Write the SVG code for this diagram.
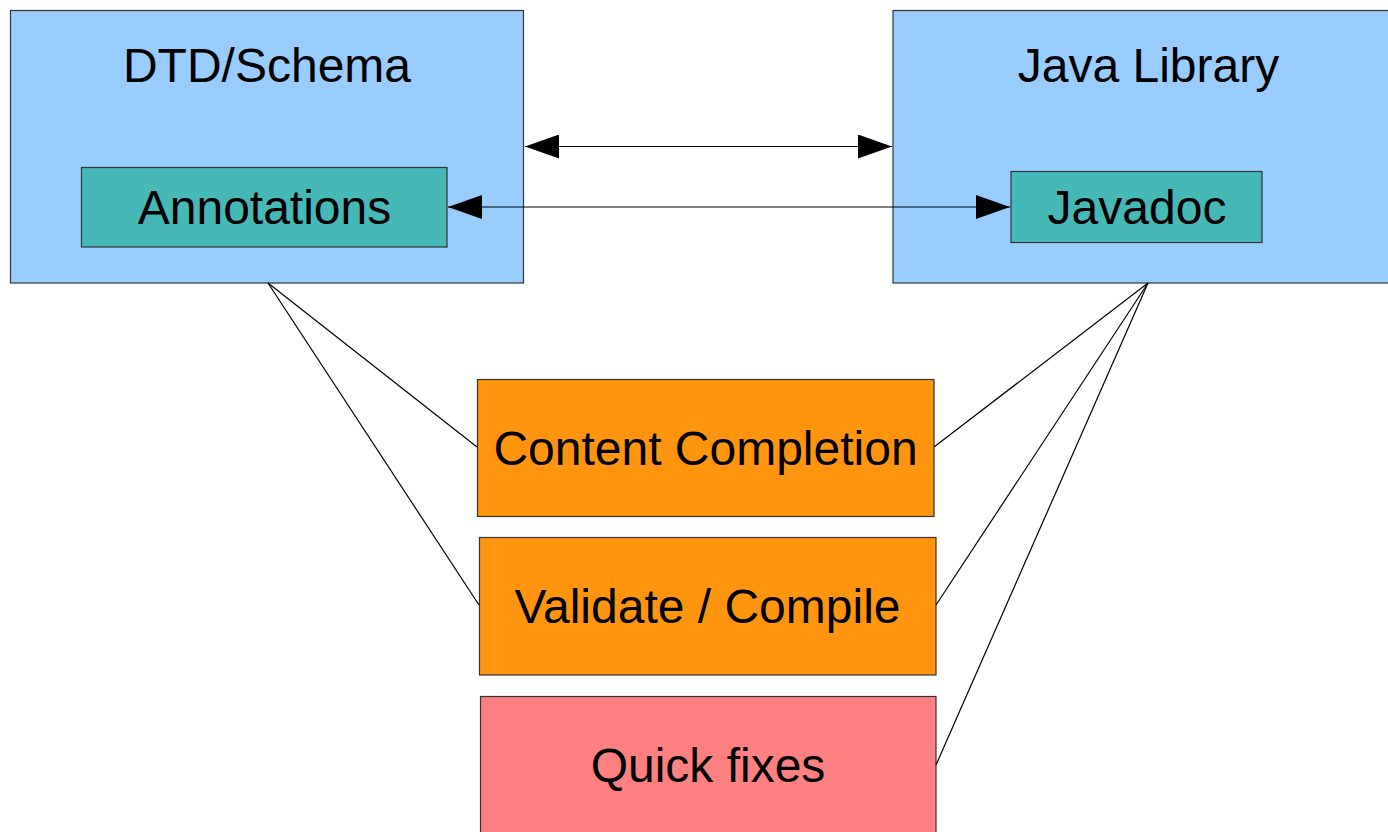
<svg xmlns="http://www.w3.org/2000/svg" width="1388" height="832" viewBox="0 0 1388 832">
<style>
.box{stroke:#333;stroke-width:1.2}
.outer{fill:#99ccff}
.inner{fill:#47b8b8}
.orange{fill:#ff950e}
.pink{fill:#ff8080}
.lbl{font-family:"Liberation Sans",Arial,sans-serif;font-size:48px;fill:#000;text-anchor:middle}
.conn{stroke:#000;stroke-width:1.2;fill:none}
</style>
<defs>
<marker id="ah" markerUnits="userSpaceOnUse" markerWidth="34" markerHeight="24" refX="34" refY="12" orient="auto-start-reverse" viewBox="0 0 34 24">
<path d="M0,0 L34,12 L0,24 Z" fill="#000"/>
</marker>
</defs>
<rect width="1388" height="832" fill="#fff"/>
<g id="dtd">
<rect class="box outer" x="10.5" y="10.5" width="513" height="272.5"/>
<text class="lbl" x="267" y="82">DTD/Schema</text>
</g>
<g id="java">
<rect class="box outer" x="893" y="10.5" width="520" height="272.5"/>
<text class="lbl" x="1148.5" y="82">Java Library</text>
</g>
<g id="annotations">
<rect class="box inner" x="81.5" y="167.5" width="365.5" height="79.5"/>
<text class="lbl" x="264.5" y="224">Annotations</text>
</g>
<g id="javadoc">
<rect class="box inner" x="1011" y="171.5" width="251" height="71"/>
<text class="lbl" x="1137" y="224">Javadoc</text>
</g>
<g id="content">
<rect class="box orange" x="477.5" y="379.5" width="456.5" height="137"/>
<text class="lbl" x="705.5" y="465">Content Completion</text>
</g>
<g id="validate">
<rect class="box orange" x="479.5" y="537.5" width="456.5" height="137.5"/>
<text class="lbl" x="707.5" y="623">Validate / Compile</text>
</g>
<g id="quickfixes">
<rect class="box pink" x="480.5" y="696.5" width="455.5" height="145"/>
<text class="lbl" x="708" y="782">Quick fixes</text>
</g>
<g id="connectors">
<line class="conn" x1="525" y1="146.5" x2="892" y2="146.5" marker-start="url(#ah)" marker-end="url(#ah)"/>
<line class="conn" x1="448" y1="207" x2="1010" y2="207" marker-start="url(#ah)" marker-end="url(#ah)"/>
<line class="conn" x1="268" y1="283" x2="477" y2="447"/>
<line class="conn" x1="268" y1="283" x2="479" y2="605"/>
<line class="conn" x1="1148" y1="283" x2="934" y2="447"/>
<line class="conn" x1="1148" y1="283" x2="936" y2="605"/>
<line class="conn" x1="1148" y1="283" x2="936" y2="765"/>
</g>
</svg>
